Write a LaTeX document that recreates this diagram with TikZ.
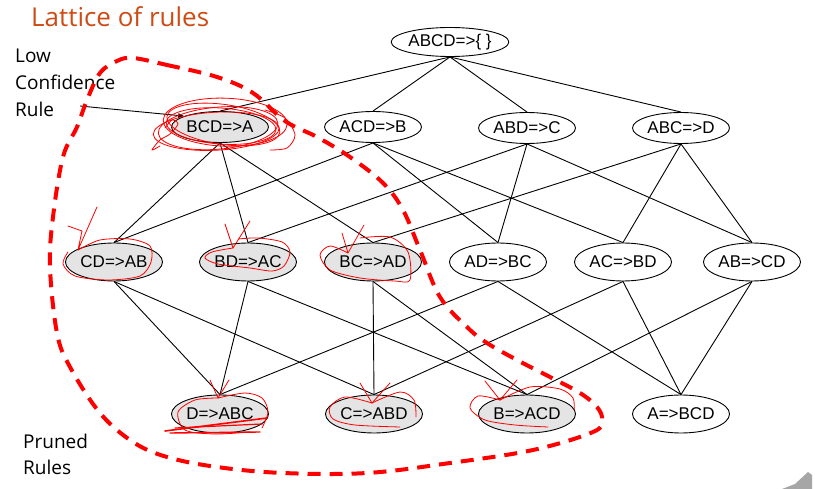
\documentclass[tikz,border=0pt]{standalone}
\usepackage{fontspec}
\setmainfont{Liberation Sans}
\newfontfamily\osans{Open Sans}
\usetikzlibrary{shapes.geometric,arrows.meta}
\definecolor{titlecol}{RGB}{205,75,20}
\definecolor{prunefill}{RGB}{228,228,228}
\begin{document}
\begin{tikzpicture}[x=1pt,y=-1pt,
  rule/.style={ellipse,draw,line width=0.9pt,inner sep=0pt,minimum width=97pt,minimum height=38pt,font=\fontsize{17}{20}\selectfont},
  rulesm/.style={rule,minimum height=31pt},
  pruned/.style={fill=prunefill},
  edge/.style={line width=0.9pt},
  scrib/.style={red,line width=0.8pt,line join=round,line cap=round},
  boundary/.style={red,line width=4pt,dash pattern=on 13pt off 9pt},
  side/.style={anchor=base west,inner sep=0pt,font=\osans\fontsize{19}{22}\selectfont}]
\useasboundingbox (0,0) rectangle (815,489);

% title and side labels
\node[anchor=base west,inner sep=0pt,text=titlecol,font=\osans\fontsize{26}{30}\selectfont] (title) at (31,27) {Lattice of rules};
\node[side] (low) at (15,63) {Low};
\node[side] (conf) at (15,90) {Confidence};
\node[side] (rl) at (15,117) {Rule};
\node[side] (pr) at (23,448) {Pruned};
\node[side] (pr2) at (23,475) {Rules};

% nodes
\node[rule,minimum width=116pt,minimum height=29pt] (T) at (450,42) {ABCD=>\{ \}};
\node[rulesm,pruned] (BCD) at (220,127) {BCD=>A};
\node[rulesm] (ACD) at (373,127) {ACD=>B};
\node[rulesm] (ABD) at (527,128) {ABD=>C};
\node[rulesm] (ABC) at (681,128) {ABC=>D};

\node[rule,pruned] (CD) at (114,262) {CD=>AB};
\node[rule,pruned] (BD) at (248,262) {BD=>AC};
\node[rule,pruned] (BC) at (373,262) {BC=>AD};
\node[rule] (AD) at (498,262) {AD=>BC};
\node[rule] (AC) at (623,262) {AC=>BD};
\node[rule] (AB) at (752,262) {AB=>CD};

\node[rule,pruned] (D) at (220,414) {D=>ABC};
\node[rule,pruned] (C) at (374,414) {C=>ABD};
\node[rule,pruned] (B) at (527,414) {B=>ACD};
\node[rule] (A) at (681,414) {A=>BCD};

% edges
\foreach \u in {BCD,ACD,ABD,ABC} \draw[edge] (T.south) -- (\u.north);
\foreach \u/\v in {BCD/CD,BCD/BD,BCD/BC,ACD/CD,ACD/AD,ACD/AC,ABD/BD,ABD/AD,ABD/AB,ABC/BC,ABC/AC,ABC/AB}
  \draw[edge] (\u.south) -- (\v.north);
\foreach \u/\v in {CD/D,CD/C,BD/D,BD/B,BC/C,BC/B,AD/D,AD/A,AC/C,AC/A,AB/B,AB/A}
  \draw[edge] (\u.south) -- (\v.north);

% arrow to low confidence rule
\coordinate (lcr) at (80,106);
\draw[edge,-{Latex[length=6pt,width=5pt]}] (lcr) -- (BCD.163);

% pruned boundary
\draw[boundary] plot[smooth cycle,tension=0.6] coordinates {
 (133,58) (167,65) (217,77) (253,93) (285,121) (317,137) (350,157) (383,183) (403,210)
 (420,250) (440,297) (467,327) (487,343) (517,360) (550,377) (580,393) (597,407) (602,420)
 (593,432) (533,450) (450,463) (367,473) (283,473) (217,467) (167,457) (133,442) (100,413)
 (70,367) (57,333) (50,267) (53,217) (63,157) (77,127) (87,100) (100,73) (117,61)};

% red scribbles
\draw[scrib,rotate around={-4:(220,127)}] (221,126) ellipse (55 and 18);
\draw[scrib,rotate around={5:(220,127)}] (218,128) ellipse (60 and 21);
\draw[scrib,rotate around={-8:(220,127)}] (223,124) ellipse (57 and 20);
\draw[scrib,rotate around={3:(220,127)}] (216,131) ellipse (63 and 19);
\draw[scrib,rotate around={-2:(220,127)}] (225,122) ellipse (62 and 24);
\draw[scrib] plot[smooth] coordinates {(165,128) (172,120) (178,124) (170,134) (160,140) (152,150) (160,146)};
\draw[scrib] plot[smooth] coordinates {(265,110) (285,118) (295,135) (287,148) (270,150)};

\draw[scrib] (68,226) -- (82,231) -- (78,250) -- (97,207);
\draw[scrib] plot[smooth] coordinates {(78,250) (100,240) (130,239) (150,246) (151,262) (140,276) (108,280) (75,276) (63,264) (68,252)};

\draw[scrib] (225,224) -- (233,248) -- (250,221);
\draw[scrib] plot[smooth] coordinates {(233,248) (212,252) (205,258) (218,264) (250,268) (272,271) (284,266) (290,252) (282,242) (258,238) (238,239)};

\draw[scrib] (342,233) -- (348,253) -- (364,225);
\draw[scrib] plot[smooth] coordinates {(348,253) (330,246) (320,255) (330,270) (360,278) (395,281) (410,280) (408,252) (390,237) (360,238)};

\draw[scrib] (210,380) -- (218,398) -- (229,380);
\draw[scrib] plot[smooth] coordinates {(218,398) (195,400) (178,412) (185,430) (215,434) (250,432)};
\draw[scrib] plot[smooth] coordinates {(218,398) (245,393) (262,398) (268,412) (262,428)};
\draw[red,line width=1.6pt,line cap=round] (165,431) -- (267,418);
\draw[red,line width=1.4pt,line cap=round] (170,433) -- (260,432);
\draw[red,line width=1.2pt,line cap=round] (175,428) -- (262,424);

\draw[scrib] (360,383) -- (372,403) -- (390,383);
\draw[scrib] plot[smooth] coordinates {(372,403) (345,397) (330,407) (333,419) (355,425) (400,427)};
\draw[scrib] plot[smooth] coordinates {(372,403) (400,392) (414,400) (416,417)};

\draw[scrib] (485,381) -- (500,400) -- (517,380);
\draw[scrib] plot[smooth] coordinates {(500,400) (478,396) (470,408) (485,420) (515,425) (548,427)};
\draw[scrib] plot[smooth] coordinates {(500,400) (530,387) (560,389) (573,398) (574,410)};

% page corner
\fill[gray!70] (782,489) -- (795,484) -- (808,472) -- (812,475) -- (812,489) -- cycle;
\end{tikzpicture}
\end{document}
